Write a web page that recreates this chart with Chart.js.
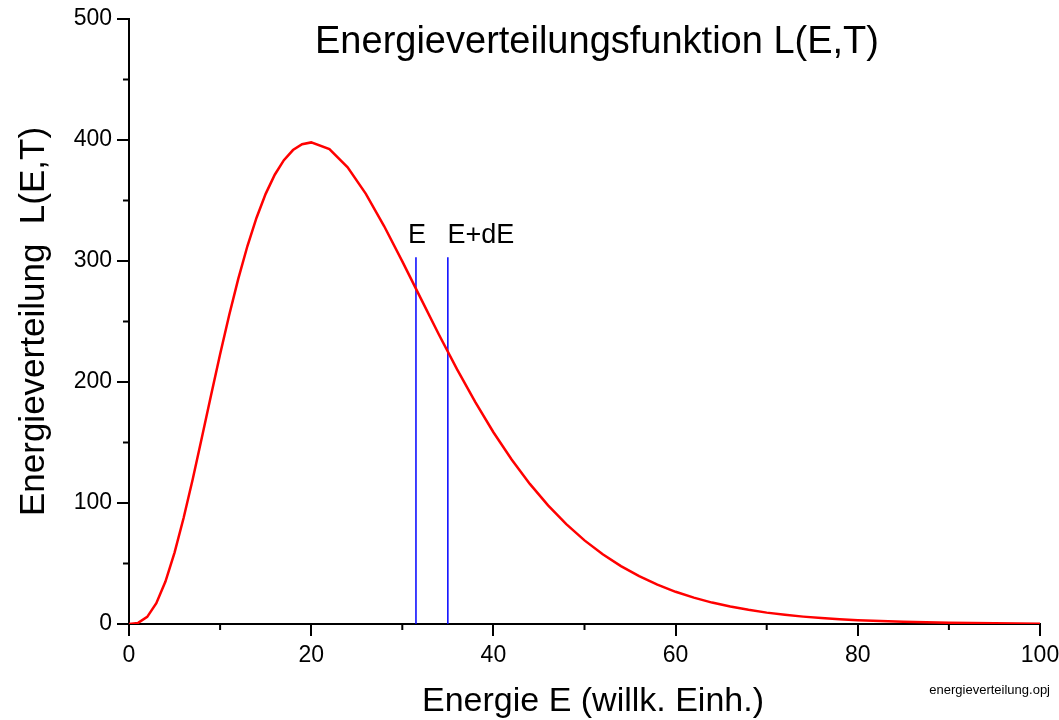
<!DOCTYPE html>
<html>
<head>
<meta charset="utf-8">
<script src="https://cdn.jsdelivr.net/npm/chart.js@4/dist/chart.umd.min.js"></script>
<style>
  html, body { margin: 0; padding: 0; background: #fff; }
</style>
</head>
<body>
<canvas id="myChart" width="1059" height="720"></canvas>
<script>
// energy values (x) and distribution L(E,T) (y)
const energie = [0, 1, 2, 3, 4, 5, 6, 7, 8, 9, 10, 11, 12, 13, 14, 15, 16, 17, 18, 19, 20,
  22, 24, 26, 28, 30, 32, 34, 36, 38, 40, 42, 44, 46, 48, 50, 52, 54, 56, 58, 60,
  62, 64, 66, 68, 70, 72, 74, 76, 78, 80, 85, 90, 95, 100];
const verteilung = [0, 0.9, 5.9, 17.2, 35.1, 59.0, 87.8, 119.9, 154.1, 188.8, 223.0, 255.4, 285.4, 312.4, 335.8, 355.5, 371.3, 383.3, 391.7, 396.5, 398,
  392.4, 377.4, 355.5, 328.9, 299.7, 269.5, 239.5, 210.6, 183.5, 158.5, 135.9, 115.8, 98.0, 82.5, 69.1, 57.6, 47.8, 39.5, 32.5, 26.6,
  21.8, 17.7, 14.4, 11.7, 9.4, 7.6, 6.1, 4.9, 3.9, 3.1, 1.8, 1.0, 0.55, 0.3];

// the two marker lines E and E+dE
const markerE = [31.5, 35];
const markerHoehe = 303;
const markerLabels = ['E', 'E+dE'];

const titel = 'Energieverteilungsfunktion L(E,T)';
const xTitel = 'Energie E (willk. Einh.)';
const yTitel = 'Energieverteilung  L(E,T)';
const dateiName = 'energieverteilung.opj';

const FONT = '"Liberation Sans", Arial, sans-serif';

const punkte = [];
energie.forEach((e, i) => {
  punkte.push({x: e, y: verteilung[i]});
});

const datasets = [{
  data: punkte,
  showLine: true,
  borderColor: '#ff0000',
  borderWidth: 2.5,
  pointRadius: 0,
  tension: 0
}];
markerE.forEach(e => {
  datasets.push({
    data: [{x: e, y: 0}, {x: e, y: markerHoehe}],
    showLine: true,
    borderColor: '#0000ff',
    borderWidth: 1.5,
    pointRadius: 0
  });
});

// minor ticks, titles and text labels
const extras = {
  id: 'extras',
  afterDraw(chart) {
    const ctx = chart.ctx;
    const xs = chart.scales.x, ys = chart.scales.y;
    const area = chart.chartArea;
    ctx.save();
    ctx.strokeStyle = '#000';
    ctx.lineWidth = 2;
    for (let v = 10; v < 100; v += 20) {
      const px = xs.getPixelForValue(v);
      ctx.beginPath();
      ctx.moveTo(px, area.bottom);
      ctx.lineTo(px, area.bottom + 6);
      ctx.stroke();
    }
    for (let v = 50; v < 500; v += 100) {
      const py = ys.getPixelForValue(v);
      ctx.beginPath();
      ctx.moveTo(area.left, py);
      ctx.lineTo(area.left - 6, py);
      ctx.stroke();
    }

    ctx.fillStyle = '#000';
    ctx.textAlign = 'center';
    ctx.textBaseline = 'middle';
    ctx.font = '38px ' + FONT;
    ctx.fillText(titel, 597, 43);

    ctx.font = '34px ' + FONT;
    ctx.fillText(xTitel, 593, 702);

    ctx.font = '27px ' + FONT;
    const labelY = ys.getPixelForValue(markerHoehe) - 22;
    ctx.fillText(markerLabels[0], xs.getPixelForValue(markerE[0]) + 1, labelY);
    ctx.fillText(markerLabels[1], xs.getPixelForValue(markerE[1]) + 33, labelY);

    ctx.textAlign = 'right';
    ctx.font = '13px ' + FONT;
    ctx.fillText(dateiName, 1050, 690);
    ctx.restore();
  }
};

const ctx = document.getElementById('myChart').getContext('2d');

const chart = new Chart(ctx, {
  type: 'scatter',
  data: {datasets: datasets},
  options: {
    responsive: false,
    animation: false,
    maintainAspectRatio: false,
    layout: {padding: {top: 19, right: 19, left: 0, bottom: 0}},
    plugins: {legend: {display: false}, tooltip: {enabled: false}},
    scales: {
      x: {
        type: 'linear',
        min: 0, max: 100,
        afterFit: s => { s.height = 96; s.paddingLeft = 0; s.paddingRight = 0; },
        border: {display: true, color: '#000', width: 2},
        grid: {drawOnChartArea: false, drawTicks: true, tickLength: 12, color: '#000', lineWidth: 2},
        ticks: {stepSize: 20, color: '#000', padding: 6, font: {family: FONT, size: 23}}
      },
      y: {
        type: 'linear',
        min: 0, max: 500,
        afterFit: s => { s.width = 129; s.paddingTop = 0; s.paddingBottom = 0; },
        border: {display: true, color: '#000', width: 2},
        grid: {drawOnChartArea: false, drawTicks: true, tickLength: 12, color: '#000', lineWidth: 2},
        ticks: {stepSize: 100, color: '#000', padding: 5, font: {family: FONT, size: 23}},
        title: {display: true, text: yTitel, color: '#000', font: {family: FONT, size: 35, lineHeight: 1}, padding: {top: 17, bottom: 0}}
      }
    }
  },
  plugins: [extras]
});
</script>
</body>
</html>
